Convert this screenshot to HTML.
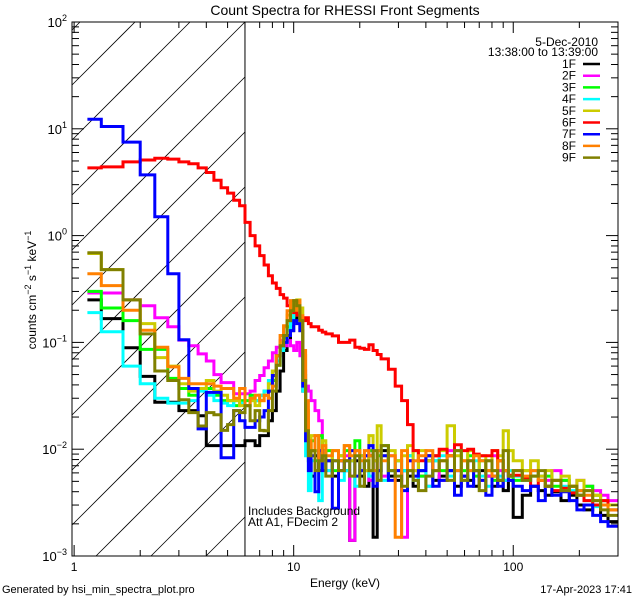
<!DOCTYPE html>
<html><head><meta charset="utf-8"><style>
html,body{margin:0;padding:0;background:#fff;width:640px;height:600px;overflow:hidden}
svg{display:block;font-family:"Liberation Sans",sans-serif}
</style></head><body>
<svg id="chart" width="640" height="600" viewBox="0 0 640 600" xmlns="http://www.w3.org/2000/svg">
<rect width="640" height="600" fill="#fff"/>
<text x="345" y="15" font-size="14" text-anchor="middle" fill="#000">Count Spectra for RHESSI Front Segments</text>
<g id="hatch"></g>
<g id="series"></g>
<g id="axes"></g>
<text x="248" y="515" font-size="12" fill="#000">Includes Background</text>
<text x="248" y="526" font-size="12" fill="#000">Att A1, FDecim  2</text>
<text x="345" y="587" font-size="12" text-anchor="middle">Energy (keV)</text>
<text transform="translate(36,290) rotate(-90)" font-size="12" text-anchor="middle">counts cm<tspan dy="-5" font-size="9">−2</tspan><tspan dy="5"> s</tspan><tspan dy="-5" font-size="9">−1</tspan><tspan dy="5"> keV</tspan><tspan dy="-5" font-size="9">−1</tspan></text>
<text x="2" y="593" font-size="11">Generated by hsi_min_spectra_plot.pro</text>
<text x="632" y="593" font-size="11" text-anchor="end">17-Apr-2023 17:41</text>
<g id="legend"></g>
</svg>
<script>
const edges=[1.15,1.33,1.67,2,2.33,2.67,3,3.33,3.67,4,4.33,4.67,5,5.33,5.67,6,6.33,6.67,7,7.33,7.67,8,8.33,8.67,9,9.33,9.67,10,10.33,10.67,11,11.33,11.67,12,12.5,13,13.5,14,15,16,17,18,19,20,21,22,23,24,25,27,29,31,33,35,37,40,43,46,50,54,58,62,66,70,75,80,85,90,95,100,110,120,130,140,150,165,180,195,210,230,250,270,300];
const seriesNames=["1F","2F","3F","4F","5F","6F","7F","8F","9F"];
const seriesColors=["#000000","#ff00ff","#00ff00","#00ffff","#cccc00","#ff0000","#0000ff","#ff8000","#808000"];
const s1F=[0.25,0.167,0.089,0.048,0.0275,0.0275,0.023,0.023,0.0206,0.0108,
0.0108,0.0108,0.0108,0.0108,0.0108,0.012,0.012,0.0108,0.0134,0.0134,
0.0185,0.023,0.035,0.054,0.084,0.104,0.129,0.165,0.178,0.129,
0.035,0.012,0.0078,0.0056,0.0087,0.0063,0.0097,0.0078,0.0056,0.0078,
0.0063,0.0014,0.0078,0.0056,0.0045,0.0087,0.0015,0.0063,0.0097,0.0056,
0.0051,0.0063,0.0056,0.0045,0.0063,0.0078,0.0051,0.0056,0.0063,0.0045,
0.0056,0.0051,0.0045,0.0063,0.0056,0.0045,0.0051,0.0041,0.0051,0.0023,
0.0037,0.0045,0.0041,0.0037,0.004,0.0033,0.0037,0.003,0.0027,0.003,
0.0024,0.0021];
const s2F=[0.29,0.29,0.25,0.22,0.17,0.14,0.105,0.093,0.078,0.067,
0.05,0.042,0.042,0.033,0.033,0.033,0.035,0.044,0.049,0.058,
0.067,0.08,0.09,0.104,0.093,0.104,0.093,0.084,0.1,0.075,
0.054,0.039,0.035,0.0285,0.023,0.0185,0.0097,0.0063,0.0078,0.0063,
0.0087,0.0014,0.0097,0.0063,0.0087,0.0051,0.0078,0.0063,0.0056,0.0087,
0.0063,0.0015,0.0078,0.0063,0.0056,0.0045,0.0087,0.0051,0.0097,0.0063,
0.0056,0.0078,0.0063,0.0051,0.0056,0.0087,0.0063,0.0051,0.0056,0.0063,
0.0051,0.0063,0.0056,0.0051,0.0063,0.0051,0.0045,0.0051,0.0045,0.0041,
0.0037,0.0033];
const s3F=[0.3,0.21,0.16,0.086,0.086,0.046,0.037,0.032,0.037,0.037,
0.032,0.0285,0.0285,0.0256,0.0285,0.0285,0.032,0.0285,0.032,0.035,
0.035,0.044,0.061,0.084,0.11,0.14,0.16,0.2,0.22,0.17,
0.049,0.0185,0.0097,0.012,0.0078,0.0134,0.0087,0.0097,0.0063,0.0087,
0.0097,0.0078,0.012,0.0087,0.0063,0.0097,0.0078,0.0087,0.0108,0.0063,
0.0078,0.0063,0.0087,0.0097,0.0056,0.0087,0.0078,0.0063,0.0087,0.0097,
0.0063,0.0087,0.0056,0.0078,0.0063,0.0051,0.0078,0.0063,0.0056,0.0051,
0.0063,0.0056,0.0051,0.0056,0.0045,0.0051,0.0045,0.0041,0.0045,0.0037,
0.0033,0.003];
const s4F=[0.19,0.126,0.06,0.041,0.03,0.027,0.027,0.0285,0.035,0.032,
0.0285,0.027,0.0256,0.0285,0.027,0.0256,0.0285,0.0285,0.032,0.035,
0.044,0.054,0.067,0.084,0.1,0.13,0.15,0.18,0.2,0.15,
0.035,0.0087,0.0041,0.0078,0.0063,0.0033,0.0087,0.0063,0.0078,0.0051,
0.0063,0.0078,0.0045,0.0087,0.0063,0.0056,0.0078,0.0097,0.0051,0.0063,
0.0078,0.0063,0.0087,0.0051,0.0063,0.0045,0.0078,0.0087,0.0056,0.0063,
0.0051,0.0063,0.0078,0.0056,0.0045,0.0063,0.0056,0.0051,0.0063,0.0056,
0.0051,0.0063,0.0056,0.0045,0.0051,0.0045,0.0041,0.0037,0.0033,0.0029,
0.0033,0.0027];
const s5F=[0.68,0.48,0.25,0.15,0.072,0.06,0.041,0.035,0.037,0.044,
0.035,0.032,0.0285,0.0285,0.0256,0.0256,0.0285,0.0256,0.0285,0.032,
0.041,0.054,0.075,0.1,0.14,0.18,0.2,0.24,0.25,0.21,
0.075,0.023,0.0097,0.0134,0.0097,0.0087,0.012,0.0078,0.0097,0.0087,
0.0108,0.0078,0.0097,0.0087,0.0063,0.0134,0.0078,0.0166,0.0087,0.0097,
0.0078,0.0087,0.0108,0.0063,0.0097,0.0078,0.0087,0.0097,0.0166,0.0087,
0.0078,0.0097,0.0063,0.0087,0.0078,0.0097,0.0087,0.0149,0.0097,0.0078,
0.0063,0.0078,0.0056,0.0063,0.0051,0.0056,0.0045,0.0051,0.0041,0.0037,
0.0033,0.003];
const s6F=[4.3,4.4,4.9,5.1,5.3,5.2,4.9,4.7,4.3,3.9,
3.3,2.8,2.5,2.14,1.9,1.33,1.0,0.8,0.65,0.53,
0.42,0.36,0.32,0.28,0.26,0.22,0.2,0.19,0.18,0.165,
0.16,0.17,0.15,0.14,0.14,0.13,0.125,0.12,0.115,0.1,
0.1,0.105,0.09,0.088,0.086,0.095,0.084,0.077,0.07,0.056,
0.039,0.0285,0.017,0.0097,0.0078,0.0087,0.0087,0.01,0.0087,0.011,
0.0097,0.01,0.009,0.0087,0.0087,0.0097,0.0078,0.0063,0.0057,0.0057,
0.0053,0.0045,0.0051,0.0045,0.0041,0.0043,0.0039,0.0037,0.0033,0.003,
0.0033,0.0027];
const s7F=[12.3,10.5,7.5,3.7,1.5,0.44,0.106,0.037,0.0155,0.034,
0.034,0.0083,0.0083,0.023,0.0185,0.016,0.016,0.0185,0.02,0.023,
0.035,0.049,0.075,0.093,0.1,0.116,0.129,0.16,0.15,0.129,
0.039,0.012,0.0063,0.0087,0.004,0.0097,0.0063,0.0078,0.0028,0.0063,
0.0078,0.0097,0.0056,0.0063,0.0087,0.0108,0.0045,0.0063,0.0087,0.0051,
0.0063,0.0041,0.0078,0.0056,0.0063,0.0087,0.0045,0.0051,0.0063,0.0037,
0.0056,0.0045,0.0063,0.0051,0.0037,0.0056,0.0045,0.0063,0.0051,0.0045,
0.0041,0.0045,0.0033,0.0045,0.0037,0.004,0.0033,0.0027,0.003,0.0024,
0.0021,0.0019];
const s8F=[0.44,0.34,0.2,0.13,0.09,0.059,0.046,0.041,0.041,0.041,
0.039,0.037,0.037,0.03,0.037,0.0256,0.03,0.032,0.0285,0.032,
0.03,0.039,0.075,0.116,0.143,0.198,0.246,0.2,0.246,0.178,
0.084,0.0285,0.012,0.0097,0.0134,0.0078,0.0108,0.0087,0.0097,0.0078,
0.0108,0.0087,0.0097,0.0078,0.0097,0.0087,0.0063,0.0097,0.0078,0.0087,
0.0015,0.0097,0.0063,0.0078,0.0087,0.0097,0.0063,0.0078,0.0087,0.0063,
0.0078,0.0063,0.0087,0.0078,0.0063,0.0056,0.0078,0.0063,0.0056,0.0063,
0.0056,0.0063,0.0051,0.0045,0.0051,0.0041,0.0045,0.0041,0.0037,0.0033,
0.003,0.0027];
const s9F=[0.69,0.48,0.25,0.12,0.054,0.044,0.029,0.022,0.0165,0.022,
0.021,0.015,0.017,0.023,0.022,0.0256,0.0185,0.023,0.015,0.0149,
0.023,0.035,0.061,0.093,0.116,0.16,0.198,0.246,0.22,0.16,
0.044,0.0149,0.0087,0.0097,0.0063,0.0078,0.0087,0.0056,0.0078,0.0063,
0.0078,0.0056,0.0087,0.0045,0.0078,0.0063,0.0097,0.0051,0.0108,0.0063,
0.0056,0.0045,0.0063,0.0051,0.0041,0.0056,0.0063,0.0078,0.0051,0.0097,
0.0051,0.0078,0.0063,0.0041,0.0078,0.0063,0.0051,0.0097,0.0056,0.0063,
0.0051,0.0056,0.0063,0.0045,0.0051,0.0041,0.0045,0.0037,0.0041,0.0033,
0.0027,0.0024];
const yTickExps=[-3,-2,-1,0,1,2];
const xTickLabels=["1","10","100"];
const attenEdge=6;

const NS="http://www.w3.org/2000/svg";
const L=72,R=618,T=22,B=556;
const xMinLog=Math.log10(0.978), xMaxLog=Math.log10(300);
function xs(e){return L+(Math.log10(e)-xMinLog)/(xMaxLog-xMinLog)*(R-L);}
function ys(v){const y=B-(Math.log10(v)+3)/5*(B-T);return Math.max(T,Math.min(B,y));}
function mk(tag,attrs,parent){const el=document.createElementNS(NS,tag);for(const k in attrs)el.setAttribute(k,attrs[k]);parent.appendChild(el);return el;}
const svg=document.getElementById('chart');

// hatch lines clipped analytically to attenuator region
const hg=document.getElementById('hatch');
const xa=xs(attenEdge);
for(let k=-6;k<12;k++){
  const y0=85+55*k;
  const xStart=Math.max(L,L+y0-B), xEnd=Math.min(xa,L+y0-T);
  if(xEnd<=xStart)continue;
  const ln=mk('line',{x1:xStart,y1:y0-(xStart-L),x2:xEnd,y2:y0-(xEnd-L),stroke:'#000','stroke-width':0.8},hg);
  
  
}
const vl=mk('line',{x1:xa,y1:T,x2:xa,y2:B,stroke:'#000','stroke-width':1},hg);



const allSeries=[s1F,s2F,s3F,s4F,s5F,s6F,s7F,s8F,s9F];
const sg=document.getElementById('series');
allSeries.forEach((vals,si)=>{
  let d='';
  const n=Math.min(vals.length,edges.length-1);
  for(let i=0;i<n;i++){
    const x0=xs(edges[i]).toFixed(1),x1=xs(edges[i+1]).toFixed(1),y=ys(vals[i]).toFixed(1);
    d+=(i===0?'M':'L')+x0+','+y+'L'+x1+','+y;
  }
  const p=mk('path',{d:d,fill:'none',stroke:seriesColors[si],'stroke-width':3,'stroke-linejoin':'miter'},sg);
  
  
});

const ag=document.getElementById('axes');
const box=mk('rect',{x:L,y:T,width:R-L,height:B-T,fill:'none',stroke:'#000','stroke-width':1},ag);


yTickExps.forEach(e=>{
  for(let m=1;m<=9;m++){
    const v=m*Math.pow(10,e); if(v>100.01)break;
    const y=ys(v), len=(m===1)?12:7;
    mk('line',{x1:L,y1:y,x2:L+len,y2:y,stroke:'#000'},ag);
    mk('line',{x1:R,y1:y,x2:R-len,y2:y,stroke:'#000'},ag);
  }
  const t=mk('text',{x:L-5,y:ys(Math.pow(10,e))+5,'font-size':13,'text-anchor':'end'},ag);
  
  
  t.innerHTML='10<tspan dy="-6" font-size="9">'+(e<0?'−'+(-e):e)+'</tspan>';
});
for(let dec=0;dec<3;dec++){
  for(let m=1;m<=9;m++){
    const e=m*Math.pow(10,dec); if(e<1||e>300)continue;
    const x=xs(e), len=(m===1)?11:6;
    mk('line',{x1:x,y1:B,x2:x,y2:B-len,stroke:'#000'},ag);
    mk('line',{x1:x,y1:T,x2:x,y2:T+len,stroke:'#000'},ag);
  }
}
xTickLabels.forEach(lbl=>{
  const t=mk('text',{x:xs(parseFloat(lbl)),y:571,'font-size':12,'text-anchor':'middle'},ag);
  
  
  t.textContent=lbl;
});

const lg=document.getElementById('legend');
const t1=mk('text',{x:598,y:46,'font-size':12,'text-anchor':'end'},lg);


t1.textContent='5-Dec-2010';
const t2=mk('text',{x:598,y:56,'font-size':12,'text-anchor':'end'},lg);


t2.textContent='13:38:00 to 13:39:00';
seriesNames.forEach((nm,i)=>{
  const y=64+i*11.7;
  const g=mk('g',{},lg);
  
  
  const tx=mk('text',{x:576,y:y+4,'font-size':12,'text-anchor':'end'},g);
  tx.textContent=nm;
  mk('line',{x1:583,y1:y,x2:600,y2:y,stroke:seriesColors[i],'stroke-width':2.5},g);
});
</script>
</body></html>
